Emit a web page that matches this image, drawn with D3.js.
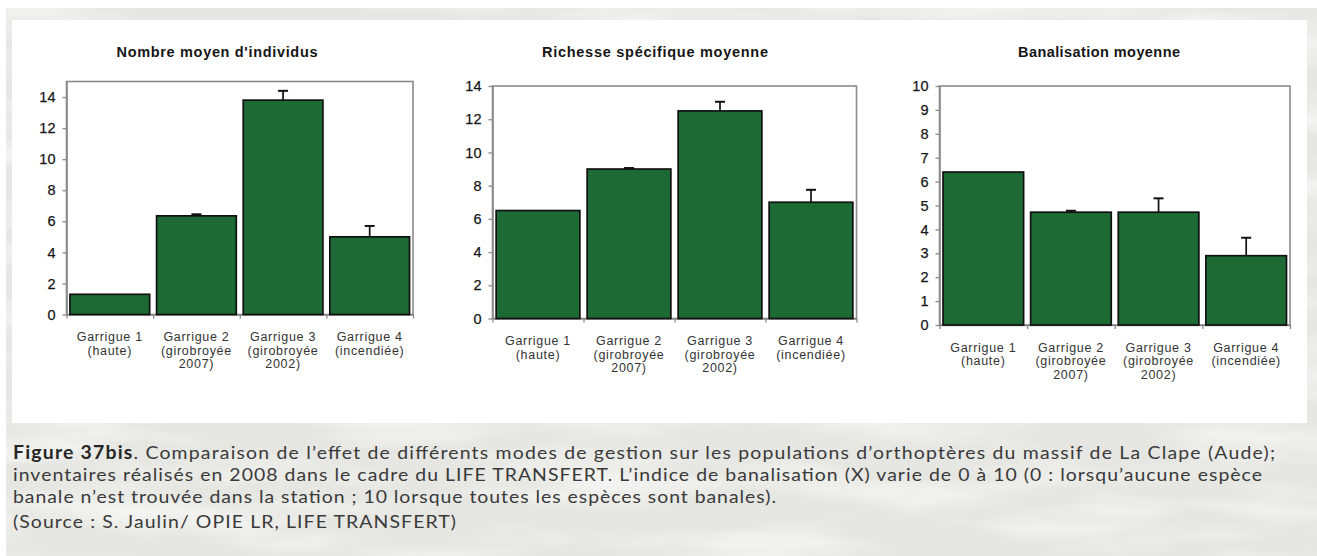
<!DOCTYPE html>
<html>
<head>
<meta charset="utf-8">
<script src="https://cdn.jsdelivr.net/npm/d3@7"></script>
<style>
  body { margin: 0; background: #fff; }
  svg { display: block; }
</style>
</head>
<body>
<svg id="fig" width="1317" height="556"></svg>
<script>
// ---- data ----------------------------------------------------------------
const categories = ["Garrigue 1", "Garrigue 2", "Garrigue 3", "Garrigue 4"];
const categorySubLabels = [
  ["(haute)"],
  ["(girobroyée", "2007)"],
  ["(girobroyée", "2002)"],
  ["(incendiée)"]
];

const individusMean = [1.3, 6.35, 13.8, 5.0];
const individusErr  = [0, 0.1, 0.6, 0.7];
const individusTicks = [0, 2, 4, 6, 8, 10, 12, 14];

const richesseMean = [6.5, 9.0, 12.5, 7.0];
const richesseErr  = [0, 0.06, 0.55, 0.75];
const richesseTicks = [0, 2, 4, 6, 8, 10, 12, 14];

const banalisationMean = [6.4, 4.72, 4.72, 2.9];
const banalisationErr  = [0, 0.06, 0.58, 0.75];
const banalisationTicks = [0, 1, 2, 3, 4, 5, 6, 7, 8, 9, 10];

const panelTitles = ["Nombre moyen d'individus", "Richesse spécifique moyenne", "Banalisation moyenne"];

const captionLines = [
  [["Figure 37bis", true], [". Comparaison de l’effet de différents modes de gestion sur les populations d’orthoptères du massif de La Clape (Aude);", false]],
  [["inventaires réalisés en 2008 dans le cadre du LIFE TRANSFERT. L’indice de banalisation (X) varie de 0 à 10 (0 : lorsqu’aucune espèce", false]],
  [["banale n’est trouvée dans la station ; 10 lorsque toutes les espèces sont banales).", false]],
  [["(Source : S. Jaulin/ OPIE LR, LIFE TRANSFERT)", false]]
];

// ---- layout ----------------------------------------------------------------
const svg = d3.select("#fig");
const W = 1317, H = 556;

const defs = svg.append("defs");
const marble = defs.append("filter").attr("id", "marble")
  .attr("x", 0).attr("y", 0).attr("width", "100%").attr("height", "100%");
marble.append("feTurbulence").attr("type", "fractalNoise")
  .attr("baseFrequency", "0.006 0.03").attr("numOctaves", 3).attr("seed", 11);
marble.append("feColorMatrix").attr("type", "matrix")
  .attr("values", "0 0 0 0 1  0 0 0 0 1  0 0 0 0 1  1.8 0 0 0 -0.75");

// page background: pale stone texture
svg.append("rect").attr("width", W).attr("height", H).attr("fill", "#ffffff");
svg.append("rect").attr("x", 6).attr("y", 8).attr("width", W - 6).attr("height", H - 8)
  .attr("fill", "#e6e6e2");
svg.append("rect").attr("x", 6).attr("y", 8).attr("width", W - 6).attr("height", H - 8)
  .attr("filter", "url(#marble)").attr("opacity", 0.7);

// white chart sheet
svg.append("rect").attr("x", 12).attr("y", 20).attr("width", 1295).attr("height", 403)
  .attr("fill", "#ffffff");

const GREEN = "#1d6a34";
const AXIS = "#8a8a8a";
const FONT = "'Liberation Sans', Arial, sans-serif";

const panels = [
  { title: panelTitles[0], titleX: 217, titleW: 201, means: individusMean, errs: individusErr,
    ticks: individusTicks, yMax: 15, left: 66.5, right: 413, top: 81.5, bottom: 314.5 },
  { title: panelTitles[1], titleX: 655, titleW: 226, means: richesseMean, errs: richesseErr,
    ticks: richesseTicks, yMax: 14, left: 492.5, right: 856.5, top: 86, bottom: 318.5 },
  { title: panelTitles[2], titleX: 1099, titleW: 162, means: banalisationMean, errs: banalisationErr,
    ticks: banalisationTicks, yMax: 10, left: 939.5, right: 1290, top: 86, bottom: 325 }
];

panels.forEach(p => {
  const g = svg.append("g");

  const y = d3.scaleLinear().domain([0, p.yMax]).range([p.bottom, p.top]);
  const x = d3.scaleBand().domain(categories).range([p.left, p.right])
    .paddingInner(0.08).paddingOuter(0.04);
  const slots = d3.scaleLinear().domain([0, categories.length]).range([p.left, p.right]);

  // title
  g.append("text")
    .attr("x", p.titleX).attr("y", 57)
    .attr("text-anchor", "middle")
    .attr("textLength", p.titleW).attr("lengthAdjust", "spacing")
    .style("font-family", FONT)
    .style("font-weight", "bold").style("font-size", "14.5px")
    .style("fill", "#161616")
    .text(p.title);

  // plot frame (top and right edges)
  g.append("rect")
    .attr("x", p.left).attr("y", p.top)
    .attr("width", p.right - p.left).attr("height", p.bottom - p.top)
    .attr("fill", "none").attr("stroke", AXIS).attr("stroke-width", 1.6);

  // y axis
  const ya = g.append("g").attr("transform", `translate(${p.left},0)`)
    .call(d3.axisLeft(y).tickValues(p.ticks).tickSize(4).tickSizeOuter(0).tickPadding(7));
  ya.select(".domain").attr("stroke", AXIS).attr("stroke-width", 1.6);
  ya.selectAll(".tick line").attr("stroke", AXIS).attr("stroke-width", 1.3);
  ya.selectAll(".tick text")
    .style("font-family", FONT)
    .style("font-size", "14.5px").style("fill", "#161616")
    .style("stroke", "#161616").style("stroke-width", 0.25);

  // x axis with dividers between categories
  const xa = g.append("g").attr("transform", `translate(0,${p.bottom})`)
    .call(d3.axisBottom(slots).tickValues(d3.range(categories.length + 1))
      .tickFormat("").tickSize(4).tickSizeOuter(0));
  xa.select(".domain").attr("stroke", AXIS).attr("stroke-width", 1.6);
  xa.selectAll(".tick line").attr("stroke", AXIS).attr("stroke-width", 1.3);

  // bars
  g.selectAll("rect.bar").data(p.means).join("rect")
    .attr("class", "bar")
    .attr("x", (d, i) => x(categories[i]))
    .attr("y", d => y(d))
    .attr("width", x.bandwidth())
    .attr("height", d => y(0) - y(d))
    .attr("fill", GREEN)
    .attr("stroke", "#111")
    .attr("stroke-width", 1.7);

  // upper error bars
  const eb = g.selectAll("g.err").data(p.means.map((m, i) => ({ m, e: p.errs[i], c: categories[i] }))
      .filter(d => d.e > 0))
    .join("g").attr("class", "err");
  eb.append("line")
    .attr("x1", d => x(d.c) + x.bandwidth() / 2).attr("x2", d => x(d.c) + x.bandwidth() / 2)
    .attr("y1", d => y(d.m)).attr("y2", d => y(d.m + d.e))
    .attr("stroke", "#111").attr("stroke-width", 1.7);
  eb.append("line")
    .attr("x1", d => x(d.c) + x.bandwidth() / 2 - 5).attr("x2", d => x(d.c) + x.bandwidth() / 2 + 5)
    .attr("y1", d => y(d.m + d.e)).attr("y2", d => y(d.m + d.e))
    .attr("stroke", "#111").attr("stroke-width", 2);

  // category labels, one text per line
  categories.forEach((c, i) => {
    const lines = [c].concat(categorySubLabels[i]);
    g.selectAll(null).data(lines).join("text")
      .attr("class", "cat")
      .attr("text-anchor", "middle")
      .attr("x", x(c) + x.bandwidth() / 2)
      .attr("y", (d, k) => p.bottom + 26.5 + k * 13.5)
      .style("font-family", FONT)
      .style("font-size", "12.5px")
      .style("letter-spacing", "0.7px")
      .style("fill", "#333")
      .text(d => d);
  });
});

// caption: slightly widened humanist sans, each line fitted to its measured width
const capBase = [459, 481, 503, 528];
const capW = [1262, 1249, 763, 443];
const capStretch = 1.08;
captionLines.forEach((parts, i) => {
  const t = svg.append("g")
    .attr("transform", `translate(13,${capBase[i]}) scale(${capStretch},1)`)
    .append("text")
    .attr("x", 0).attr("y", 0)
    .style("font-family", "Lato, 'Open Sans', sans-serif")
    .style("font-size", "18px").style("fill", "#3a3a3a");
  parts.forEach(([txt, bold]) => {
    t.append("tspan")
      .style("font-weight", bold ? "bold" : "normal")
      .style("fill", bold ? "#262626" : "#3a3a3a")
      .text(txt);
  });
  t.attr("textLength", capW[i] / capStretch).attr("lengthAdjust", "spacing");
});
</script>
</body>
</html>
